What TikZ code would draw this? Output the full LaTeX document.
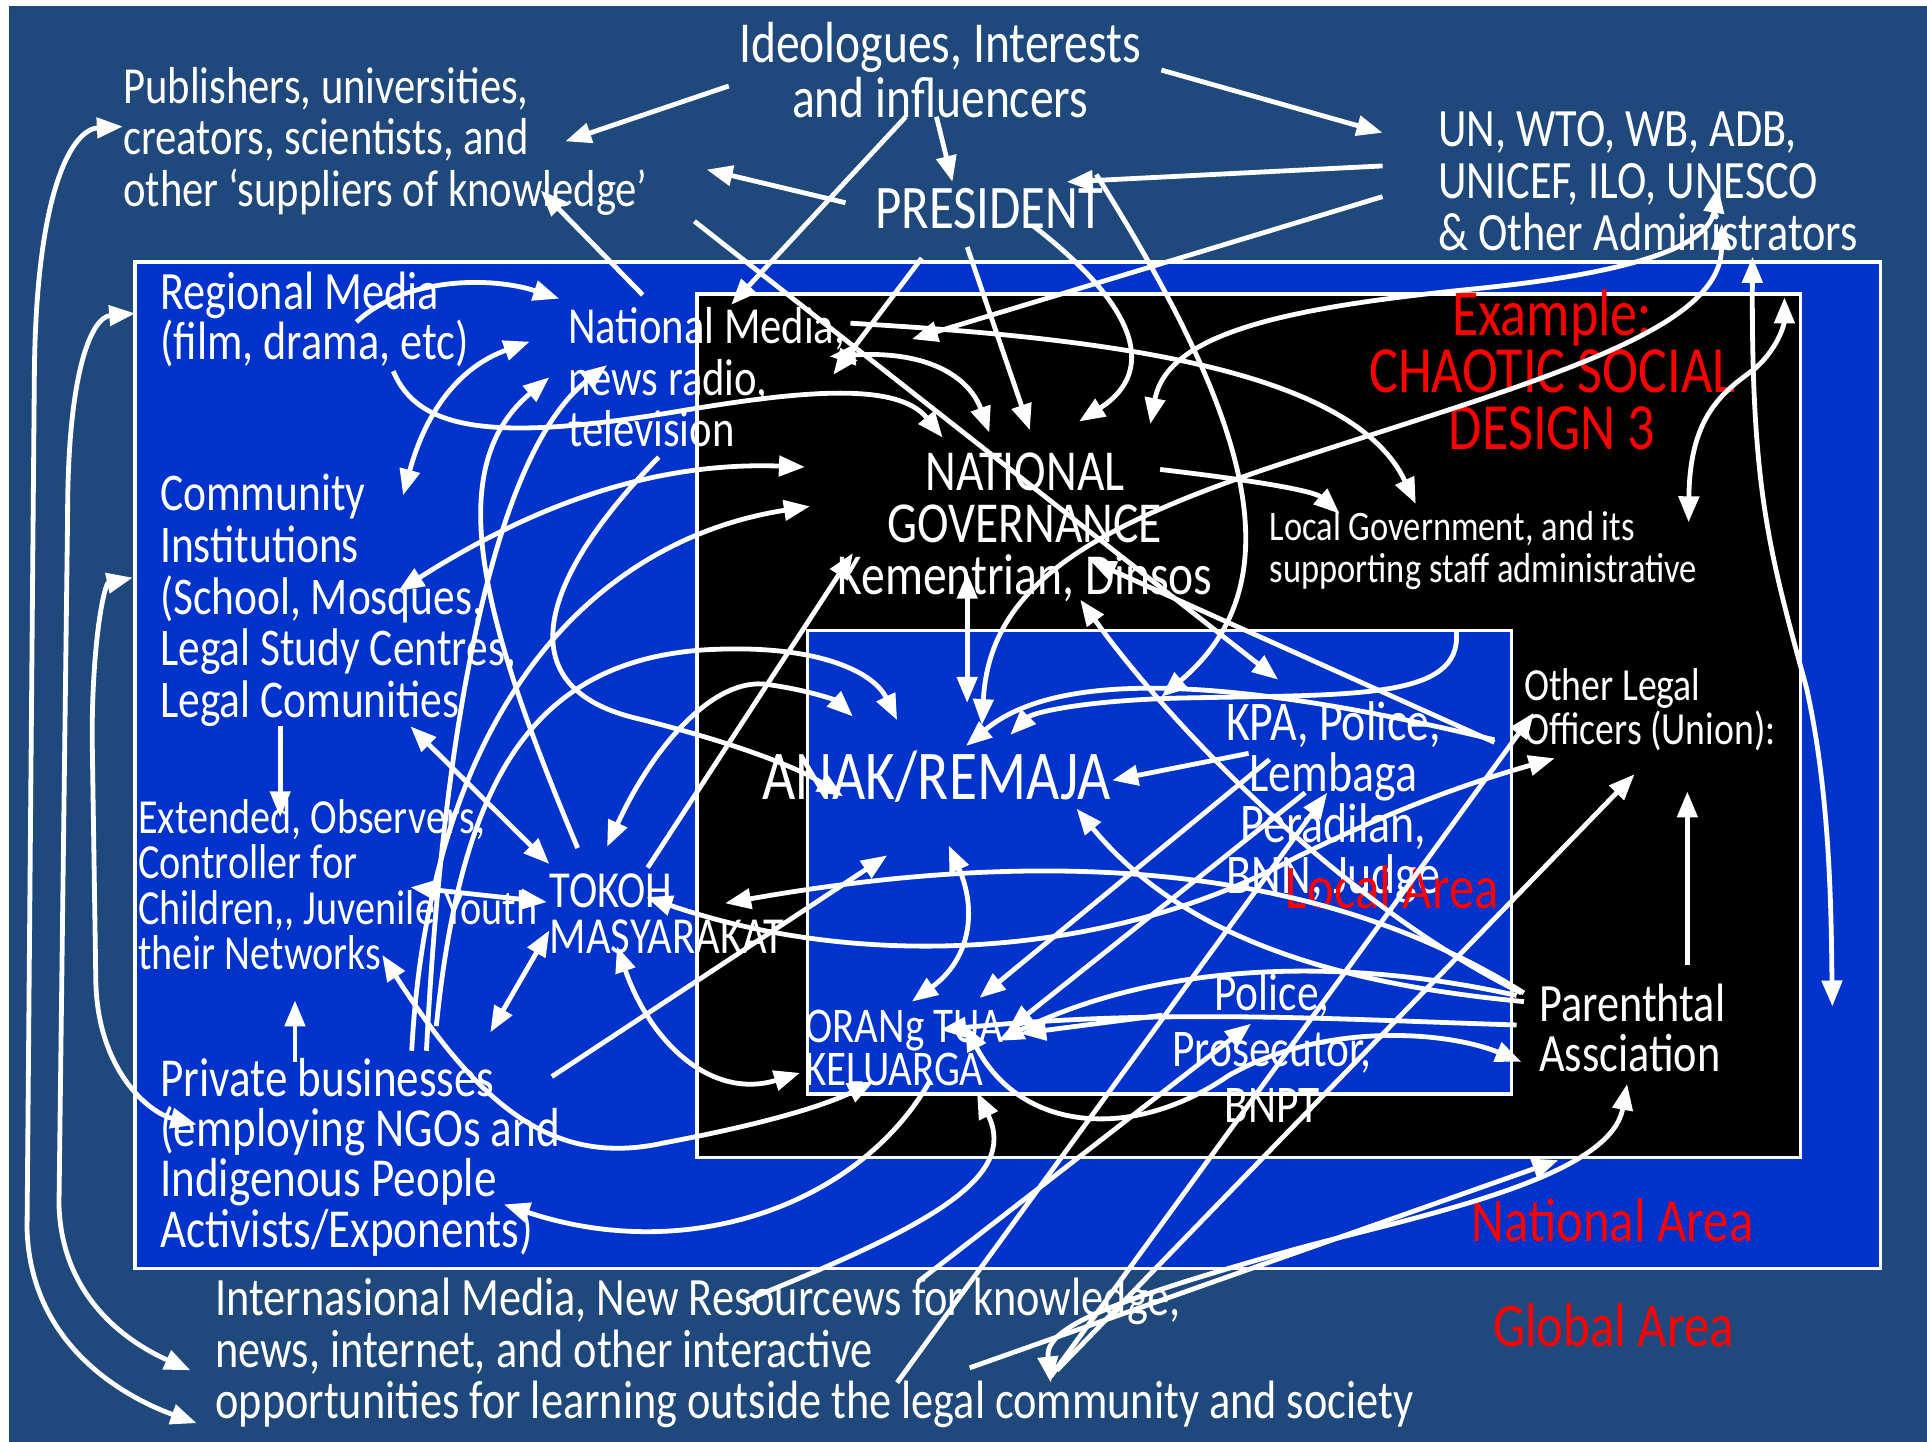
\documentclass[tikz,border=0pt]{standalone}
\usepackage{fontspec}
\setmainfont{Carlito}[FakeStretch=0.82]
\usetikzlibrary{arrows.meta}
\definecolor{bgblue}{RGB}{31,73,125}
\definecolor{natblue}{RGB}{0,51,204}
\definecolor{redtxt}{RGB}{255,0,0}
\begin{document}
\begin{tikzpicture}[x=0.6145pt,y=-0.6145pt,
 ln/.style={white,line width=2.4pt},
 ar/.style={ln,-{Triangle[length=13pt,width=10pt]}},
 dar/.style={ln,{Triangle[length=13pt,width=10pt]}-{Triangle[length=13pt,width=10pt]}},
 box/.style={draw=white,line width=1.8pt},
 txt/.style={text=white,inner sep=0pt,align=left,anchor=west},
 ctxt/.style={text=white,inner sep=0pt,align=center},
 rtxt/.style={text=redtxt,inner sep=0pt,align=center},
 fs/.style 2 args={font=\fontsize{#1}{#2}\selectfont}]
\useasboundingbox (0,0) rectangle (1568,1173);
\fill[white] (0,0) rectangle (1568,1173);
\fill[bgblue] (7,5) rectangle (1568,1173);
\draw[box,fill=natblue] (110,213) rectangle (1530,1032);
\draw[box,fill=black] (567,239) rectangle (1465,942);
\draw[box,fill=natblue] (657,513) rectangle (1230,890);

% texts
\node[ctxt,fs={29}{27.7}] (ideo) at (765,57) {Ideologues, Interests\\and influencers};
\node[txt,fs={26}{25.8}] (pub) at (100,115) {Publishers, universities,\\creators, scientists, and\\other ‘suppliers of knowledge’};
\node[ctxt,fs={31}{31}] (pres) at (805,170) {PRESIDENT};
\node[txt,fs={27}{26}] (un) at (1170,147.5) {UN, WTO, WB, ADB,\\UNICEF, ILO, UNESCO\\\& Other Administrators};
\node[txt,fs={27}{24.6}] (reg) at (130,260) {Regional Media\\(film, drama, etc)};
\node[txt,fs={26}{25.8}] (natmed) at (462,307) {National Media,\\news radio,\\television};
\node[txt,fs={26.5}{25.8}] (comm) at (130,488.5) {Community\\Institutions\\(School, Mosques,\\Legal Study Centres,\\Legal Comunities};
\node[txt,fs={24.5}{22.7}] (ext) at (112,720) {Extended, Observers,\\Controller for\\Children,{}, Juvenile Youth\\their Networks};
\node[txt,fs={27.5}{25.2}] (priv) at (130,941.5) {Private businesses\\(employing NGOs and\\Indigenous People\\Activists/Exponents)};
\node[txt,fs={26}{23}] (tokoh) at (447,743.5) {TOKOH\\MASYARAKAT};
\node[ctxt,fs={29}{26}] (natgov) at (834,429) {NATIONAL\\GOVERNANCE\\Kementrian, Dinsos};
\node[txt,fs={21}{20.9}] (localgov) at (1033,448) {Local Government, and its\\supporting staff administrative};
\node[rtxt,fs={33}{28.6}] (example) at (1263,301) {Example:\\CHAOTIC SOCIAL\\DESIGN 3};
\node[ctxt,fs={35}{35}] (anak) at (762,632) {ANAK/REMAJA};
\node[ctxt,fs={28}{25.4}] (kpa) at (1085,653) {KPA, Police,\\Lembaga\\Peradilan,\\BNN, Judge};
\node[rtxt,fs={31}{31}] (localarea) at (1133,722) {Local Area};
\node[txt,fs={23}{20.5}] (olo) at (1240,577.5) {Other Legal\\Officers (Union):};
\node[txt,fs={25}{21.5}] (orang) at (655,852.5) {ORANg TUA\\KELUARGA};
\node[ctxt,fs={26.5}{28}] (police) at (1035,853) {Police,\\Prosecutor,\\BNPT};
\node[txt,fs={27}{25.2}] (parent) at (1252,836.5) {Parenthtal\\Assciation};
\node[rtxt,fs={31}{31}] (natarea) at (1312,993) {National Area};
\node[rtxt,fs={31}{31}] (globarea) at (1313,1078) {Global Area};
\node[txt,fs={27}{25.8}] (intl) at (175,1101) {Internasional Media, New Resourcews for knowledge,\\news, internet, and other interactive\\opportunities for learning outside the legal community and society};

% connector end points
\foreach \n/\x/\y in {
a1s/593/70, a1e/460/115, a2s/945/57, a2e/1125/108, a3s/762/95, a3e/775/148,
a4s/737/95, a4e/595/248, a5s/688/165, a5e/575/138, a6s/1125/135, a6e/868/148,
a7s/1125/160, a7e/742/276, a8s/523/240, a8e/440/155, a9s/565/180, a9e/1040/553,
a10s/750/210, a10e/678/305, p3s/787/201, p3e/838/350, p4s/841/184, p4e/878/343,
p2s/892/142, p2e/945/567, u1s/936/345, u1e/1398/152, u2s/799/590, u2e/1401/182,
v1s/787/466, v1e/787/572, g1s/944/382, g1e/1090/418, g2s/692/263, g2e/1152/410,
n1s/675/290, n1e/805/352, d2s/1216/604, d2e/887/456, d1s/1238/808, d1e/879/488,
pa4s/1240/815, pa4e/876/658, k3s/1016/613, k3e/905/635, k4s/1216/602, k4e/786/607,
k5s/1185/514, k5e/822/598, k1s/1033/618, k1e/797/812, k2s/1062/645, k2e/820/838,
b1s/730/1125, b1e/1080/645, p1s/946/826, p1e/830/841, pa2s/1234/810, pa2e/812/847,
pa3s/1234/834, pa3e/765/838, pa1s/785/834, pa1e/1238/864, ao1/772/688, ao2/742/815,
c2s/1240/808, c2e/590/735, c1s/526/730, c1e/1265/617, t1s/334/591, t1e/447/703,
t2s/334/722, t2e/445/734, t3s/447/757, t3e/399/840, r4as/470/690, r4ae/447/307,
r4bs/347/855, r4be/494/297, r6s/335/855, r6e/659/412, t8s/355/835, t8e/730/586,
t5s/536/372, t5e/686/648, t6s/494/689, t6e/694/583, t7s/527/706, t7e/694/450,
t9s/449/876, t9e/722/696, t10s/502/770, t10e/651/873, t11s/311/777, t11e/711/880,
t12s/757/879, t12e/410/980, t13s/607/1058, t13e/795/889, b2s/747/1043, b2e/1018/833,
b3s/789/1113, b3e/1268/944, b4s/855/1125, b4e/1324/882, b5s/855/1120, b5e/1248/580,
b6s/860/1115, b6e/1330/630, rr1s/1374/425, rr1e/1452/242, rr2s/1426/209, rr2e/1491/819,
po1s/1373/785, po1e/1373/644, ce1s/228/591, ce1e/228/665, pe1s/240/864, pe1e/240/814,
g3s/290/262, g3e/455/243, g4s/320/302, g4e/767/356, r3s/431/278, r3e/328/403,
r5s/324/481, r5e/655/380, l1s/100/103, l1e/160/1158, l2s/110/255, l2e/155/1115,
l3s/108/470, l3e/160/915}
  \coordinate (\n) at (\x,\y);

% top connectors
\draw[ar] (a1s) -- (a1e);
\draw[ar] (a2s) -- (a2e);
\draw[ar] (a3s) -- (a3e);
\draw[ar] (a4s) -- (a4e);
\draw[ar] (a5s) -- (a5e);
\draw[ar] (a6s) -- (a6e);
\draw[ar] (a7s) -- (a7e);
\draw[ar] (a8s) -- (a8e);
\draw[ar] (a9s) -- (a9e);
\draw[ar] (a10s) -- (a10e);
\draw[ar] (p3s) -- (p3e);
\draw[ar] (p4s) .. controls (920,245) and (945,300) .. (p4e);
\draw[ar] (p2s) .. controls (1010,330) and (1060,470) .. (p2e);
\draw[dar] (u1s) .. controls (950,270) and (1050,250) .. (1200,235) .. controls (1330,222) and (1390,200) .. (u1e);
\draw[dar] (u2s) .. controls (805,480) and (880,430) .. (1050,375) .. controls (1250,310) and (1400,270) .. (u2e);
\draw[dar] (v1s) -- (v1e);
\draw[ar] (g1s) .. controls (1030,392) and (1070,400) .. (g1e);
\draw[ar] (g2s) .. controls (900,275) and (1100,300) .. (g2e);
\draw[dar] (n1s) .. controls (760,285) and (790,310) .. (n1e);
\draw[ar] (d2s) -- (d2e);
\draw[ar] (d1s) .. controls (1100,740) and (960,600) .. (d1e);
\draw[ar] (pa4s) .. controls (1080,800) and (960,760) .. (pa4e);
% local area connectors
\draw[ar] (k3s) -- (k3e);
\draw[ar] (k4s) .. controls (1000,550) and (860,545) .. (k4e);
\draw[ar] (k5s) .. controls (1190,570) and (1100,565) .. (960,568) .. controls (880,570) and (840,580) .. (k5e);
\draw[ar] (k1s) -- (k1e);
\draw[ar] (k2s) -- (k2e);
\draw[ar] (b1s) -- (b1e);
\draw[ar] (p1s) -- (p1e);
\draw[ar] (pa2s) .. controls (1100,780) and (950,780) .. (pa2e);
\draw[ar] (pa3s) .. controls (1100,830) and (950,820) .. (pa3e);
\draw[dar] (pa1s) .. controls (830,920) and (920,930) .. (1000,875) .. controls (1080,830) and (1180,840) .. (pa1e);
\draw[dar] (ao1) .. controls (795,740) and (790,780) .. (ao2);
\draw[ar] (c2s) .. controls (1100,720) and (900,680) .. (c2e);
\draw[dar] (c1s) .. controls (700,790) and (900,780) .. (1050,700) .. controls (1150,650) and (1220,630) .. (c1e);
% left connectors
\draw[dar] (t1s) -- (t1e);
\draw[dar] (t2s) -- (t2e);
\draw[dar] (t3s) -- (t3e);
\draw[ar] (r4as) .. controls (390,500) and (360,380) .. (r4ae);
\draw[ar] (r4bs) .. controls (360,600) and (400,370) .. (r4be);
\draw[ar] (r6s) .. controls (350,580) and (480,440) .. (r6e);
\draw[ar] (t8s) .. controls (375,640) and (430,540) .. (570,529) .. controls (660,523) and (710,545) .. (t8e);
\draw[ar] (t5s) .. controls (440,470) and (410,560) .. (520,585) .. controls (600,605) and (650,625) .. (t5e);
\draw[dar] (t6s) .. controls (530,610) and (580,550) .. (625,557) .. controls (660,562) and (680,570) .. (t6e);
\draw[ar] (t7s) -- (t7e);
\draw[ar] (t9s) -- (t9e);
\draw[dar] (t10s) .. controls (530,850) and (580,895) .. (t10e);
\draw[dar] (t11s) .. controls (390,900) and (450,950) .. (540,930) .. controls (620,915) and (670,900) .. (t11e);
\draw[ar] (t12s) .. controls (700,980) and (560,1030) .. (t12e);
\draw[ar] (t13s) .. controls (750,1000) and (830,960) .. (t13e);
% bottom connectors
\draw[ar] (b2s) -- (b2e);
\draw[ar] (b3s) -- (b3e);
\draw[dar] (b4e) .. controls (1310,960) and (1150,990) .. (1052,1017) .. controls (900,1060) and (850,1080) .. (b4s);
\draw[ar] (b5s) -- (b5e);
\draw[ar] (b6s) -- (b6e);
% right connectors
\draw[dar] (rr1s) .. controls (1375,340) and (1400,320) .. (1428,300) .. controls (1450,280) and (1452,260) .. (rr1e);
\draw[dar] (rr2s) .. controls (1425,400) and (1440,450) .. (1470,560) .. controls (1490,650) and (1490,750) .. (rr2e);
\draw[ar] (po1s) -- (po1e);
% national area left
\draw[ar] (ce1s) -- (ce1e);
\draw[ar] (pe1s) -- (pe1e);
\draw[ar] (g3s) .. controls (330,225) and (400,225) .. (g3e);
\draw[ar] (g4s) .. controls (340,350) and (400,360) .. (550,335) .. controls (650,318) and (730,310) .. (g4e);
\draw[dar] (r3s) .. controls (370,300) and (345,340) .. (r3e);
\draw[dar] (r5s) .. controls (420,420) and (520,375) .. (r5e);
% long outer curves
\draw[dar] (l1s) .. controls (60,105) and (30,150) .. (28,300) -- (22,1000) .. controls (25,1100) and (110,1140) .. (l1e);
\draw[dar] (l2s) .. controls (75,258) and (55,300) .. (55,420) -- (48,980) .. controls (50,1060) and (110,1095) .. (l2e);
\draw[dar] (l3s) .. controls (85,475) and (75,520) .. (75,600) -- (78,800) .. controls (80,870) and (120,905) .. (l3e);
\end{tikzpicture}
\end{document}
